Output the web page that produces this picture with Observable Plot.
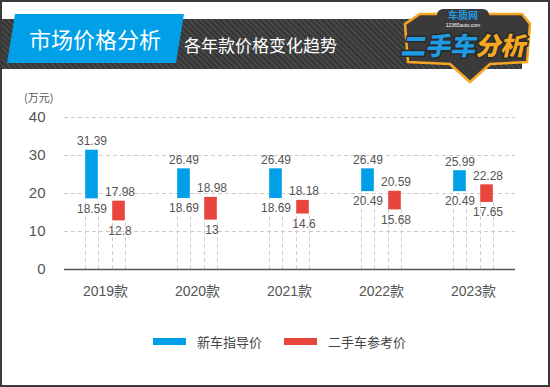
<!DOCTYPE html>
<html>
<head>
<meta charset="utf-8">
<script src="https://cdn.jsdelivr.net/npm/d3@7"></script>
<script src="https://cdn.jsdelivr.net/npm/@observablehq/plot@0.6"></script>
<style>
  html, body { margin: 0; padding: 0; background: #fff; }
  #page { position: relative; width: 550px; height: 387px; overflow: hidden; font-family: 'Liberation Sans', 'Noto Sans CJK SC', sans-serif; }
  #frame { position: absolute; left: 0; top: 0; width: 550px; height: 387px; box-sizing: border-box; border: 2px solid #3a3a3a; pointer-events: none; z-index: 10; }
  #band { position: absolute; left: 2px; top: 19px; width: 520px; height: 50px;
    background: repeating-linear-gradient(45deg, #363636 0 2px, #474747 2px 4px); }
  #title { position: absolute; left: 0; top: 14px; width: 190px; height: 49px;
    background: #009fe8; clip-path: polygon(15px 0, 184px 0, 176px 49px, 7px 49px); }
  #title span { position: absolute; left: 0; width: 190px; top: 0; line-height: 49px; text-align: center; color: #fff;
    font-family: 'Noto Sans CJK SC', sans-serif; font-size: 22px; }
  #subtitle { position: absolute; left: 184px; top: 33px; color: #fff; font-family: 'Noto Sans CJK SC', sans-serif; font-size: 17px; line-height: 24px; }
  #logo { position: absolute; left: 375px; top: 0; }
  #unit { position: absolute; left: 24px; top: 89px; font-size: 11px; color: #555; font-family: 'Noto Sans CJK SC', sans-serif; }
  #chart { position: absolute; left: 0; top: 80px; }
  .lg { position: absolute; top: 334px; font-size: 13px; color: #444; font-family: 'Noto Sans CJK SC', sans-serif; line-height: 16px; }
  .sw { position: absolute; top: 338px; width: 33px; height: 7px; }
</style>
</head>
<body>
<div id="page">
  <div id="band"></div>
  <div id="title"><span>市场价格分析</span></div>
  <div id="subtitle">各年款价格变化趋势</div>
  <svg id="logo" width="175" height="85" viewBox="0 0 175 85">
    <polygon points="45,14 147,14 155,24 152,62 115,64 95,82 75,64 33,62 30,24" fill="#3a3a3a" stroke="#f5a623" stroke-width="2.5"/>
    <rect x="62" y="9" width="52" height="20" rx="6" fill="#3a3a3a"/>
    <text x="88" y="19" text-anchor="middle" font-family="Noto Sans CJK SC" font-weight="bold" font-size="10" fill="#1e9be3">车质网</text>
    <text x="88" y="27" text-anchor="middle" font-family="Liberation Sans" font-size="5" fill="#fff">12365auto.com</text>
    <g transform="skewX(-12)">
      <text x="37" y="55" font-family="Noto Sans CJK SC" font-weight="900" font-size="25" fill="#1e9be3" stroke="#2a2a2a" stroke-width="3" paint-order="stroke">二手车</text>
      <text x="112" y="55" font-family="Noto Sans CJK SC" font-weight="900" font-size="25" fill="#f7a823" stroke="#2a2a2a" stroke-width="3" paint-order="stroke">分析</text>
    </g>
  </svg>
  <div id="unit">(万元)</div>
  <div id="chart"></div>
  <div class="sw" style="left:153px;background:#009fe8"></div>
  <div class="lg" style="left:197px">新车指导价</div>
  <div class="sw" style="left:284px;background:#e8453c"></div>
  <div class="lg" style="left:328px">二手车参考价</div>
  <div id="frame"></div>
</div>
<script>
const years = ["2019款", "2020款", "2021款", "2022款", "2023款"];
const newLow = [18.59, 18.69, 18.69, 20.49, 20.49];
const newHigh = [31.39, 26.49, 26.49, 26.49, 25.99];
const usedLow = [12.8, 13, 14.6, 15.68, 17.65];
const usedHigh = [17.98, 18.98, 18.18, 20.59, 22.28];
const yTicks = [0, 10, 20, 30, 40];

const blue = "#009fe8";
const red = "#e8453c";

const newData = years.map((y, i) => ({year: y, low: newLow[i], high: newHigh[i]}));
const usedData = years.map((y, i) => ({year: y, low: usedLow[i], high: usedHigh[i]}));

const bw = (520 - 58) / years.length;
const half = bw / 2;

const dash = {stroke: "#cfcfcf", strokeDasharray: "4,3", strokeWidth: 1};

const chart = Plot.plot({
  width: 550,
  height: 230,
  marginLeft: 64,
  marginRight: 35,
  marginTop: 37,
  marginBottom: 41,
  style: {fontFamily: "'Liberation Sans', 'Noto Sans CJK SC', sans-serif", color: "#555", background: "transparent", overflow: "visible"},
  x: {type: "band", domain: years, range: [58, 520], padding: 0},
  y: {domain: [0, 40]},
  marks: [
    Plot.gridY(yTicks.filter(d => d > 0), {stroke: "#cccccc", strokeOpacity: 1, strokeDasharray: "4,3"}),
    Plot.ruleX(newData, {x: "year", y1: 0, y2: "low", dx: -20, ...dash}),
    Plot.ruleX(newData, {x: "year", y1: 0, y2: "low", dx: -7, ...dash}),
    Plot.ruleX(usedData, {x: "year", y1: 0, y2: "low", dx: 7, ...dash}),
    Plot.ruleX(usedData, {x: "year", y1: 0, y2: "low", dx: 20, ...dash}),
    Plot.barY(newData, {x: "year", y1: "low", y2: "high", fill: blue, insetLeft: half - 20, insetRight: half + 7}),
    Plot.barY(usedData, {x: "year", y1: "low", y2: "high", fill: red, insetLeft: half + 7, insetRight: half - 20}),
    Plot.text(newData, {x: "year", y: "high", text: d => String(d.high), dx: -13.5, dy: -9, fontSize: 12, fill: "#555"}),
    Plot.text(newData, {x: "year", y: "low", text: d => String(d.low), dx: -13.5, dy: 10, fontSize: 12, fill: "#555"}),
    Plot.text(usedData, {x: "year", y: "high", text: d => String(d.high), dx: 14.5, dy: -9, fontSize: 12, fill: "#555"}),
    Plot.text(usedData, {x: "year", y: "low", text: d => String(d.low), dx: 14.5, dy: 10, fontSize: 12, fill: "#555"}),
    Plot.ruleY([0], {stroke: "#555", strokeWidth: 1.5}),
    Plot.axisY({ticks: yTicks, tickSize: 0, tickPadding: 19, fontSize: 15, label: null}),
    Plot.axisX({tickSize: 0, tickPadding: 17, fontSize: 14, label: null})
  ]
});
document.getElementById("chart").appendChild(chart);
</script>
</body>
</html>
